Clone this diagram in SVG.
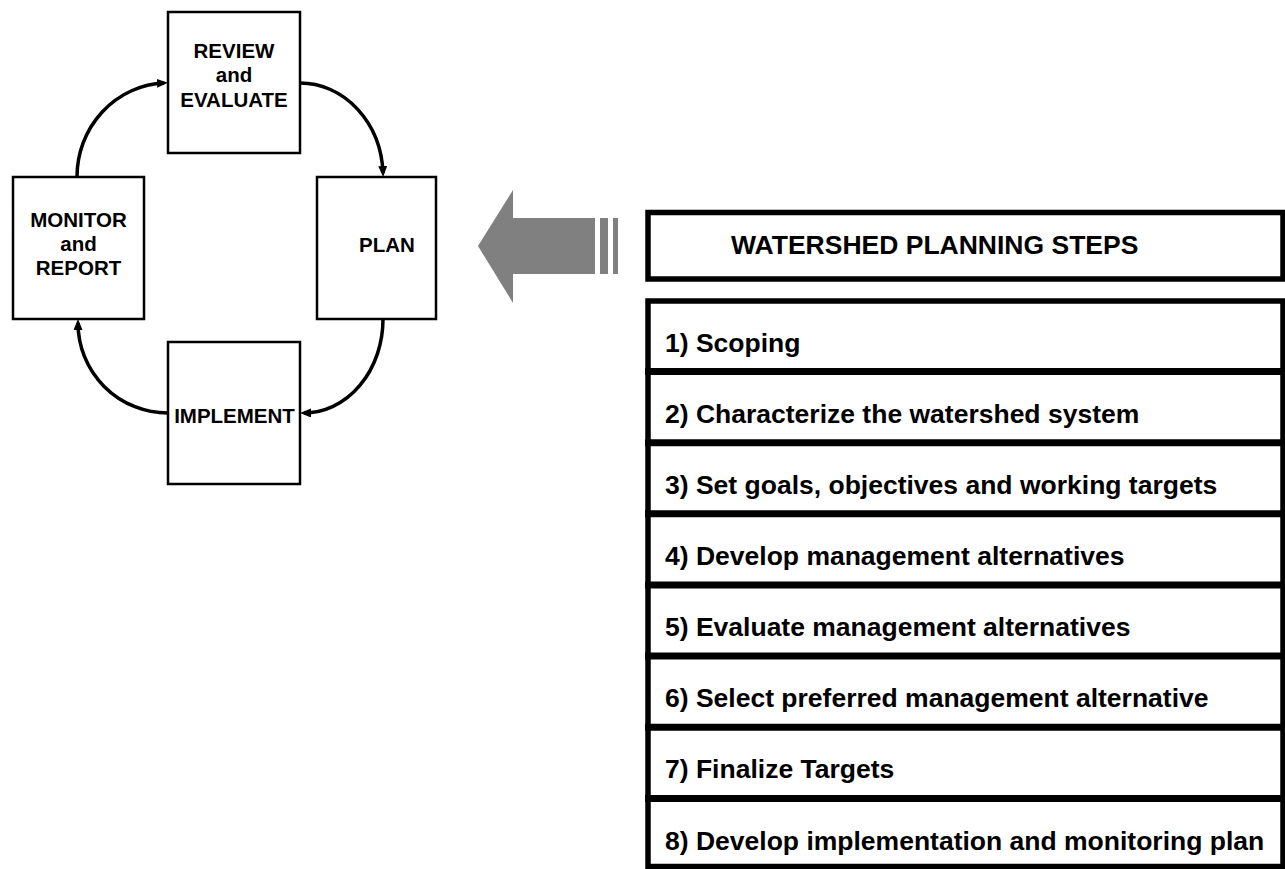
<svg xmlns="http://www.w3.org/2000/svg" width="1285" height="869" viewBox="0 0 1285 869">
<style>
.box{fill:#fff;stroke:#000;stroke-width:2.5}
.lt{font-family:"Liberation Sans",Arial,sans-serif;font-weight:bold;font-size:20.5px;fill:#000;text-anchor:middle}
.rt{font-family:"Liberation Sans",Arial,sans-serif;font-weight:bold;font-size:26.5px;fill:#000}
.conn{fill:none;stroke:#000;stroke-width:3.5}
.frame{fill:#fff;stroke:#000;stroke-width:5.5}
.sep{stroke:#000;stroke-width:7}
</style>
<defs>
<marker id="ah" markerUnits="userSpaceOnUse" markerWidth="11" markerHeight="9" viewBox="0 0 11 9" refX="7" refY="4.5" orient="auto">
<path d="M0,0 L11,4.5 L0,9 z" fill="#000"/>
</marker>
</defs>
<g id="review"><rect class="box" x="168" y="12" width="132" height="141"/>
<text class="lt" x="234" y="58">REVIEW</text><text class="lt" x="234" y="82">and</text><text class="lt" x="234" y="107">EVALUATE</text></g>
<g id="monitor"><rect class="box" x="13" y="177" width="131" height="142"/>
<text class="lt" x="78.5" y="227">MONITOR</text><text class="lt" x="78.5" y="251">and</text><text class="lt" x="78.5" y="275">REPORT</text></g>
<g id="plan"><rect class="box" x="317" y="177" width="119" height="142"/>
<text class="lt" x="387" y="252">PLAN</text></g>
<g id="implement"><rect class="box" x="168" y="342" width="132" height="142"/>
<text class="lt" x="234.5" y="423">IMPLEMENT</text></g>
<g id="connectors">
<path class="conn" d="M77,177 A91,94 0 0 1 164,83" marker-end="url(#ah)"/>
<path class="conn" d="M300,83 A83,94 0 0 1 383,173" marker-end="url(#ah)"/>
<path class="conn" d="M383,319 A79,94 0 0 1 304,413" marker-end="url(#ah)"/>
<path class="conn" d="M168,413 A90,90 0 0 1 78,323" marker-end="url(#ah)"/>
</g>
<g id="bigarrow" fill="#808080">
<polygon points="478,246 513,190 513,218 595,218 595,274 513,274 513,303"/>
<rect x="600" y="218" width="8" height="56"/>
<rect x="613" y="218" width="5" height="56"/>
</g>
<g id="title"><rect class="frame" x="648" y="212.5" width="635" height="66.5"/>
<text class="rt" x="731" y="254">WATERSHED PLANNING STEPS</text></g>
<g id="steps">
<rect class="frame" x="648" y="301" width="635" height="565.5"/>
<line class="sep" x1="645" y1="371.5" x2="1285" y2="371.5"/>
<line class="sep" x1="645" y1="442.7" x2="1285" y2="442.7"/>
<line class="sep" x1="645" y1="513.8" x2="1285" y2="513.8"/>
<line class="sep" x1="645" y1="585" x2="1285" y2="585"/>
<line class="sep" x1="645" y1="656.1" x2="1285" y2="656.1"/>
<line class="sep" x1="645" y1="727.3" x2="1285" y2="727.3"/>
<line class="sep" x1="645" y1="798.5" x2="1285" y2="798.5"/>
<text class="rt" x="665" y="352">1) Scoping</text>
<text class="rt" x="665" y="423">2) Characterize the watershed system</text>
<text class="rt" x="665" y="494">3) Set goals, objectives and working targets</text>
<text class="rt" x="665" y="565">4) Develop management alternatives</text>
<text class="rt" x="665" y="636">5) Evaluate management alternatives</text>
<text class="rt" x="665" y="707">6) Select preferred management alternative</text>
<text class="rt" x="665" y="778">7) Finalize Targets</text>
<text class="rt" x="665" y="850">8) Develop implementation and monitoring plan</text>
</g>
</svg>
